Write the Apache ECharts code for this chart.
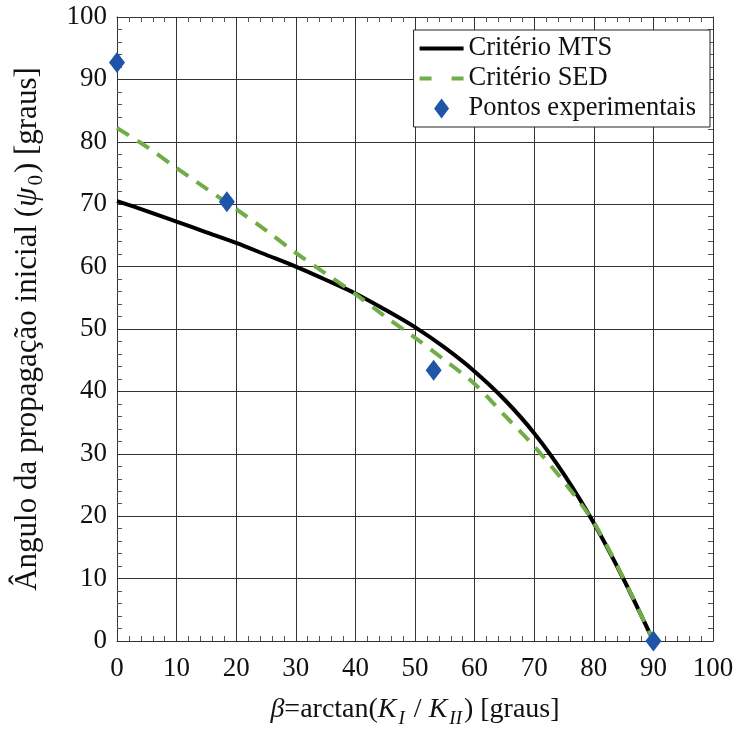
<!DOCTYPE html>
<html>
<head>
<meta charset="utf-8">
<script src="https://cdn.jsdelivr.net/npm/echarts@6/dist/echarts.min.js"></script>
<style>html,body{margin:0;padding:0;background:#fff}#c{width:738px;height:729px}</style>
</head>
<body>
<div id="c"></div>
<script>
var betaMTS = [0, 5, 10, 15, 20, 25, 30, 35, 40, 45, 50, 55, 60, 65, 70, 75, 80, 85, 90];
var psiMTS  = [70.5, 68.9, 67.2, 65.5, 63.8, 61.9, 60.0, 57.9, 55.7, 53.1, 50.3, 47.0, 43.2, 38.7, 33.3, 26.7, 18.9, 9.9, 0];
var betaSED = [0, 5, 10, 15, 20, 25, 30, 35, 40, 45, 50, 55, 60, 65, 70, 75, 80, 85, 90];
var psiSED  = [82.2, 79.2, 75.8, 72.5, 69.2, 65.8, 62.2, 58.9, 55.6, 52.0, 48.6, 45.0, 41.2, 36.2, 31.2, 25.5, 19.0, 10.0, 0];
var betaExp = [0, 18.43, 53.13, 90];
var psiExp  = [92.7, 70.4, 43.4, 0];
var tickVals = [0, 10, 20, 30, 40, 50, 60, 70, 80, 90, 100];

function pairs(xs, ys){ return xs.map(function(x,i){ return [x, ys[i]]; }); }

var FONT = '"Liberation Serif", "Times New Roman", serif';
var chart = echarts.init(document.getElementById('c'), null, {renderer:'canvas'});

var axisCommon = {
  type: 'value', min: tickVals[0], max: tickVals[tickVals.length-1], interval: 10,
  axisLine: {show: true, onZero: false, lineStyle: {color: '#333', width: 1}},
  axisTick: {show: true, inside: true, length: 6, lineStyle: {color: '#333'}},
  minorTick: {show: true, splitNumber: 5, length: 5, lineStyle: {color: '#555'}},
  splitLine: {show: false}
};

var diamondPath = 'path://M0,-10L7.5,0L0,10L-7.5,0Z';

chart.setOption({
  animation: false,
  backgroundColor: '#fff',
  grid: {left: 117, right: 25, top: 17, bottom: 88, show: false, outerBoundsMode: 'none', containLabel: false},
  legend: {
    orient: 'vertical', right: 28, top: 30,
    backgroundColor: '#fff', borderColor: '#222', borderWidth: 1,
    padding: [5, 14, 5, 4], itemGap: 3, itemWidth: 44, itemHeight: 20,
    textStyle: {fontFamily: FONT, fontSize: 26.5, color: '#111'},
    data: [
      {name: 'Critério MTS', itemStyle: {opacity: 0}, lineStyle: {width: 4, color: '#000'}},
      {name: 'Critério SED', itemStyle: {opacity: 0}, lineStyle: {width: 4, color: '#70AD47', type: [12, 20]}},
      {name: 'Pontos experimentais', icon: diamondPath, itemStyle: {color: '#1F55A8', opacity: 1}}
    ]
  },
  xAxis: [
    Object.assign({}, axisCommon, {
      position: 'bottom',
      axisLabel: {show: true, margin: 14, fontFamily: FONT, fontSize: 27, color: '#111'},
      splitLine: {show: true, lineStyle: {color: '#333', width: 1}},
      name: '{i|β}{n|=arctan(}{i|K}{s|I}{n| / }{i|K}{s|II}{n|) [graus]}',
      nameLocation: 'middle', nameGap: 50,
      nameTextStyle: {
        fontFamily: FONT, fontSize: 28, color: '#111',
        rich: {
          i: {fontFamily: FONT, fontSize: 28, fontStyle: 'italic', color: '#111'},
          n: {fontFamily: FONT, fontSize: 28, color: '#111'},
          s: {fontFamily: FONT, fontSize: 19, fontStyle: 'italic', color: '#111', padding: [18, 2, 0, 2]}
        }
      }
    }),
    Object.assign({}, axisCommon, {position: 'top', axisLabel: {show: false}})
  ],
  yAxis: [
    Object.assign({}, axisCommon, {
      position: 'left',
      axisLabel: {show: true, margin: 10, fontFamily: FONT, fontSize: 27, color: '#111'},
      splitLine: {show: true, lineStyle: {color: '#333', width: 1}},
      name: '{n|Ângulo da propagação inicial (}{i|ψ}{s|0}{n|) [graus]}',
      nameLocation: 'middle', nameGap: 70, nameRotate: 90,
      nameTextStyle: {
        fontFamily: FONT, fontSize: 31, color: '#111',
        rich: {
          i: {fontFamily: FONT, fontSize: 31, fontStyle: 'italic', color: '#111'},
          n: {fontFamily: FONT, fontSize: 31, color: '#111'},
          s: {fontFamily: FONT, fontSize: 21, color: '#111', padding: [18, 2, 0, 2]}
        }
      }
    }),
    Object.assign({}, axisCommon, {position: 'right', axisLabel: {show: false}})
  ],
  series: [
    {
      name: 'Critério MTS', type: 'line', data: pairs(betaMTS, psiMTS),
      smooth: 0.3, showSymbol: false, symbol: 'none', z: 3,
      lineStyle: {color: '#000', width: 4},
      itemStyle: {color: '#000'}
    },
    {
      name: 'Critério SED', type: 'line', data: pairs(betaSED, psiSED),
      smooth: 0.3, showSymbol: false, symbol: 'none', z: 4,
      lineStyle: {color: '#70AD47', width: 4, type: [14, 10]},
      itemStyle: {color: '#70AD47'}
    },
    {
      name: 'Pontos experimentais', type: 'scatter', data: pairs(betaExp, psiExp),
      symbol: 'diamond', symbolSize: [16, 21], z: 5,
      itemStyle: {color: '#1F55A8', opacity: 1}
    }
  ]
});
</script>
</body>
</html>
